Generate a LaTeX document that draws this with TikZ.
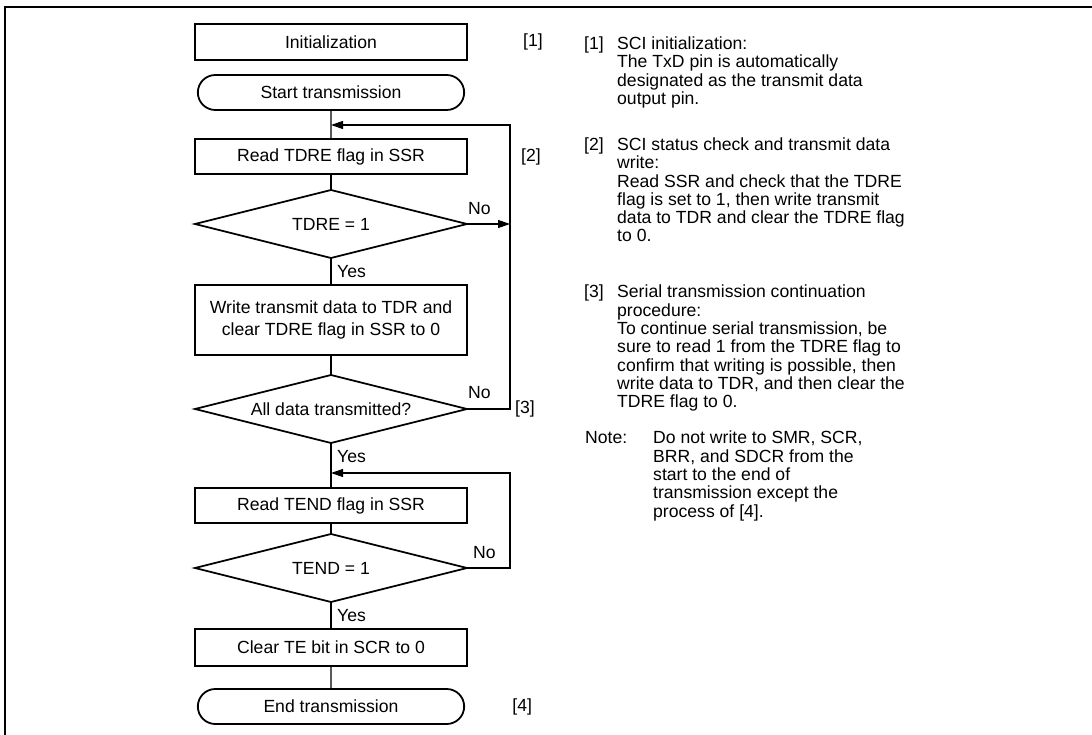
\documentclass[tikz,border=0pt]{standalone}
\usepackage{fontspec}
\setmainfont{Liberation Sans}
\usetikzlibrary{shapes.geometric, shapes.misc, arrows.meta, positioning}
\newcommand{\dia}[1]{\makebox[0pt]{#1}}

\begin{document}
\begin{tikzpicture}[x=1pt, y=-1pt,
  box/.style={draw, line width=1.8pt, outer sep=0pt, minimum width=272pt, minimum height=36pt, align=center, inner sep=2pt},
  term/.style={draw, rounded rectangle, line width=1.8pt, outer sep=0pt, minimum width=273pt, minimum height=35pt},
  decision/.style={draw, diamond, line width=1.8pt, outer sep=0pt, minimum width=272pt, minimum height=68pt, inner sep=0pt},
  link/.style={line width=1.1pt},
  arrow/.style={line width=1.1pt, -{Triangle[length=12pt,width=8pt]}},
  lbl/.style={inner sep=0pt},
  note/.style={inner sep=0pt, align=left, anchor=north west, font=\fontsize{17.6}{18.3}\selectfont},
  font=\fontsize{17.6}{22}\selectfont
]
\useasboundingbox (0,0) rectangle (1092,735);
\draw[line width=2.2pt] (1092,7) -- (5,7) -- (5,735);

% flow
\node[box] (init) at (331,42) {Initialization};
\node[term, below=15pt of init] (start) {Start transmission};
\node[box, below=29pt of start, minimum height=35pt] (readtdre) {Read TDRE flag in SSR};
\node[decision, below=16pt of readtdre] (tdre) {\dia{TDRE = 1}};
\node[box, below=27pt of tdre, minimum height=70pt] (write) {Write transmit data to TDR and\\clear TDRE flag in SSR to 0};
\node[decision, below=20pt of write] (alldata) {\dia{All data transmitted?}};
\node[box, below=45pt of alldata, minimum height=35pt] (readtend) {Read TEND flag in SSR};
\node[decision, below=11pt of readtend] (tend) {\dia{TEND = 1}};
\node[box, below=27pt of tend, minimum height=37pt] (clearte) {Clear TE bit in SCR to 0};
\node[term, below=23pt of clearte] (end) {End transmission};

\coordinate (j1) at (331,125);
\coordinate (r1) at (510,125);
\coordinate (j2) at (331,473);
\coordinate (r2) at (510,473);

\draw[link] (start) -- (readtdre);
\draw[link] (readtdre) -- (tdre);
\draw[link] (tdre) -- (write);
\draw[link] (write) -- (alldata);
\draw[link] (alldata) -- (readtend);
\draw[link] (readtend) -- (tend);
\draw[link] (tend) -- (clearte);
\draw[link] (clearte) -- (end);
\draw[arrow] (alldata.east) -| (r1) -- (j1);
\draw[arrow] (tdre.east) -- (tdre.east -| r1);
\draw[arrow] (tend.east) -| (r2) -- (j2);

% branch labels
\node[lbl, anchor=south west] (no1) at ([xshift=1pt, yshift=9pt]tdre.east) {No};
\node[lbl, anchor=north west] (yes1) at ([xshift=6pt, yshift=-7pt]tdre.south) {Yes};
\node[lbl, anchor=south west] (no2) at ([xshift=1pt, yshift=10pt]alldata.east) {No};
\node[lbl, anchor=north west] (yes2) at ([xshift=6pt, yshift=-7pt]alldata.south) {Yes};
\node[lbl, anchor=south west] (no3) at ([xshift=6pt, yshift=9pt]tend.east) {No};
\node[lbl, anchor=north west] (yes3) at ([xshift=6pt, yshift=-7pt]tend.south) {Yes};

% step marks
\node[lbl, right=56pt of init] (mark1) {[1]};
\node[lbl, right=54pt of readtdre] (mark2) {[2]};
\node[lbl, right=48pt of alldata.east] (mark3) {[3]};
\node[lbl, right=48pt of end] (mark4) {[4]};

% notes
\node[note] (key1) at (584,36.5) {[1]};
\node[note] (desc1) at (617,36.5) {SCI initialization:\\The TxD pin is automatically\\designated as the transmit data\\output pin.};
\node[note] (key2) at (584,137.5) {[2]};
\node[note] (desc2) at (617,137.5) {SCI status check and transmit data\\write:\\Read SSR and check that the TDRE\\flag is set to 1, then write transmit\\data to TDR and clear the TDRE flag\\to 0.};
\node[note] (key3) at (584,285) {[3]};
\node[note] (desc3) at (617,285) {Serial transmission continuation\\procedure:\\To continue serial transmission, be\\sure to read 1 from the TDRE flag to\\confirm that writing is possible, then\\write data to TDR, and then clear the\\TDRE flag to 0.};
\node[note] (notekey) at (585,431) {Note:};
\node[note] (notetext) at (653,431) {Do not write to SMR, SCR,\\BRR, and SDCR from the\\start to the end of\\transmission except the\\process of [4].};
\end{tikzpicture}
\end{document}
